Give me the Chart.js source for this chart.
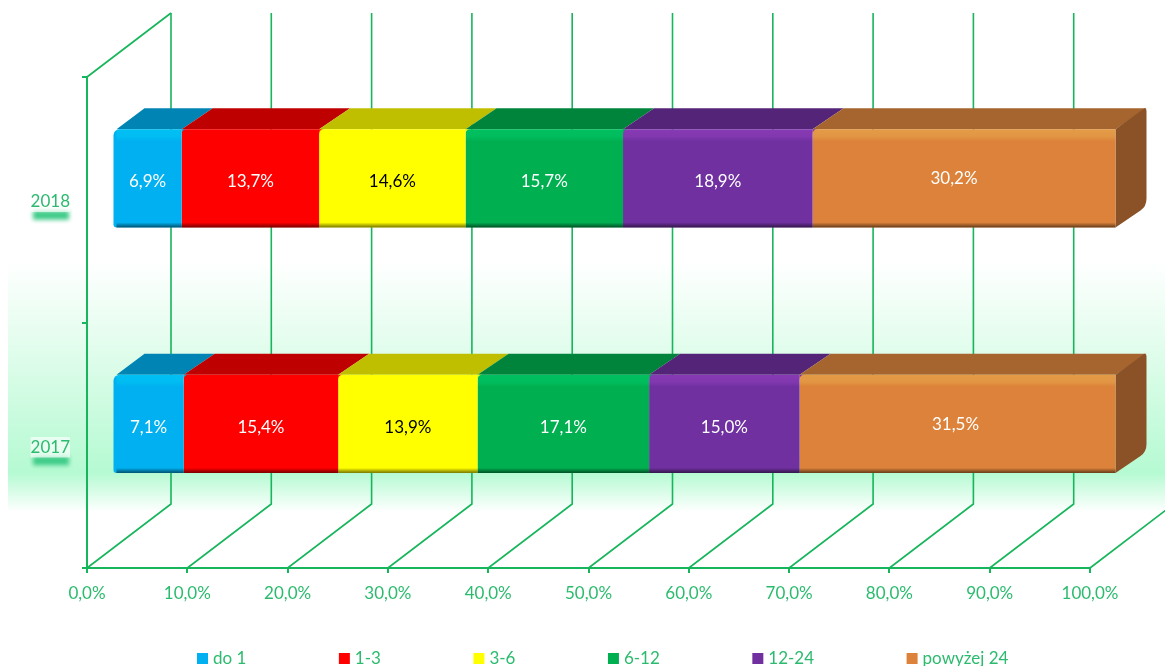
<!DOCTYPE html>
<html lang="pl">
<head>
<meta charset="utf-8">
<title>Struktura</title>
<style>
    html, body { margin: 0; padding: 0; background: #fff; }
    canvas { display: block; }
</style>
<script src="https://cdn.jsdelivr.net/npm/chart.js@4"></script>
</head>
<body>
<canvas id="chart" width="1165" height="666"></canvas>
<script>
const categories = ['2018', '2017'];
const seriesNames = ['do 1', '1-3', '3-6', '6-12', '12-24', 'powyżej 24'];
const do1 = [6.9, 7.1];
const from1to3 = [13.7, 15.4];
const from3to6 = [14.6, 13.9];
const from6to12 = [15.7, 17.1];
const from12to24 = [18.9, 15.0];
const over24 = [30.2, 31.5];
const seriesValues = [do1, from1to3, from3to6, from6to12, from12to24, over24];

const frontColors = ['#00B0F0', '#FF0000', '#FFFF00', '#00B050', '#7030A0', '#DC823A'];
const topColors = ['#0084B4', '#BF0000', '#BFBF00', '#00843C', '#542478', '#A6652E'];
const labelColors = ['#fff', '#fff', '#000', '#fff', '#fff', '#fff'];
const sideColor = '#8A5226';
const lineColor = '#17B55C';
const textColor = '#2CBB6E';
const fontName = 'Lato, Carlito, sans-serif';

// box sits in front of the back wall, so it is shifted from the axis
const barShiftX = 25.5;
const barShiftY = -21.4;
const depthX = 31;
const depthY = -21;
const wallX = 84;
const wallY = -64;

function percentText(value) {
    return value.toFixed(1).replace('.', ',') + '%';
}

const wallPlugin = {
    id: 'wall',
    beforeDraw(chart) {
        const ctx = chart.ctx;
        const grad = ctx.createLinearGradient(0, 260, 0, 512);
        grad.addColorStop(0, '#ffffff');
        grad.addColorStop(0.32, '#E4FDEE');
        grad.addColorStop(0.845, '#B5FAD2');
        grad.addColorStop(1, '#ffffff');
        ctx.fillStyle = grad;
        ctx.fillRect(8, 260, chart.width - 8, 252);

        // soft green shadow under the year labels
        const y = chart.scales.y;
        ctx.save();
        ctx.filter = 'blur(2px)';
        ctx.fillStyle = '#3FCB88';
        categories.forEach((c, i) => {
            ctx.fillRect(33, y.getPixelForTick(i) + 11, 36, 9);
        });
        ctx.restore();
    },
    beforeDatasetsDraw(chart) {
        const ctx = chart.ctx;
        const { x } = chart.scales;
        const { top, bottom } = chart.chartArea;
        ctx.save();
        ctx.strokeStyle = lineColor;
        ctx.lineWidth = 1.6;
        x.ticks.forEach((t) => {
            const px = x.getPixelForValue(t.value);
            ctx.beginPath();
            ctx.moveTo(px, bottom);
            ctx.lineTo(px + wallX, bottom + wallY);
            ctx.lineTo(px + wallX, top + wallY);
            ctx.stroke();
        });
        const left = x.getPixelForValue(0);
        ctx.beginPath();
        ctx.moveTo(left, top);
        ctx.lineTo(left + wallX, top + wallY);
        ctx.stroke();
        ctx.restore();

        // top and side faces of the box, then leave ctx moved for the bars
        ctx.save();
        ctx.translate(barShiftX, barShiftY);
        seriesValues.forEach((values, s) => {
            chart.getDatasetMeta(s).data.forEach((bar) => {
                const barTop = bar.y - bar.height / 2;
                const barBottom = bar.y + bar.height / 2;
                ctx.fillStyle = topColors[s];
                ctx.beginPath();
                ctx.moveTo(bar.base + (s === 0 ? 3 : 0), barTop);
                ctx.lineTo(bar.base + depthX, barTop + depthY);
                ctx.lineTo(bar.x + depthX, barTop + depthY);
                ctx.lineTo(bar.x, barTop);
                ctx.closePath();
                ctx.fill();
                if (s === seriesValues.length - 1) {
                    ctx.fillStyle = sideColor;
                    ctx.beginPath();
                    ctx.moveTo(bar.x, barTop);
                    ctx.lineTo(bar.x + depthX - 2, barTop + depthY);
                    ctx.quadraticCurveTo(bar.x + depthX, barTop + depthY, bar.x + depthX, barTop + depthY + 3);
                    ctx.lineTo(bar.x + depthX, barBottom + depthY - 8);
                    ctx.quadraticCurveTo(bar.x + depthX, barBottom + depthY, bar.x + depthX - 6, barBottom + depthY + 4);
                    ctx.lineTo(bar.x, barBottom);
                    ctx.closePath();
                    ctx.fill();
                }
            });
        });
    },
    afterDatasetsDraw(chart) {
        const ctx = chart.ctx;
        seriesValues.forEach((values, s) => {
            chart.getDatasetMeta(s).data.forEach((bar, i) => {
                const barTop = bar.y - bar.height / 2;
                const barBottom = bar.y + bar.height / 2;
                const from = bar.base + (s === 0 ? 3 : 0);
                const width = bar.x - from;

                // overlay keeps pure red and yellow as they are
                const shine = ctx.createLinearGradient(0, barTop, 0, barTop + 12);
                shine.addColorStop(0, 'rgba(255,255,255,0.2)');
                shine.addColorStop(0.6, 'rgba(255,255,255,0.16)');
                shine.addColorStop(1, 'rgba(255,255,255,0)');
                ctx.globalCompositeOperation = 'overlay';
                ctx.fillStyle = shine;
                ctx.fillRect(from, barTop, width, 12);
                ctx.globalCompositeOperation = 'source-over';

                const shade = ctx.createLinearGradient(0, barBottom - 5, 0, barBottom);
                shade.addColorStop(0, 'rgba(0,0,0,0)');
                shade.addColorStop(1, 'rgba(0,0,0,0.55)');
                ctx.fillStyle = shade;
                ctx.fillRect(from, barBottom - 5, width, 5);

                // each piece has its left corners rounded over the previous one
                if (s > 0) {
                    const r = 5;
                    ctx.fillStyle = frontColors[s - 1];
                    ctx.beginPath();
                    ctx.moveTo(bar.base, barTop);
                    ctx.lineTo(bar.base + r, barTop);
                    ctx.quadraticCurveTo(bar.base, barTop, bar.base, barTop + r);
                    ctx.closePath();
                    ctx.fill();
                }
            });
        });

        ctx.font = '17px ' + fontName;
        ctx.textAlign = 'center';
        ctx.textBaseline = 'middle';
        seriesValues.forEach((values, s) => {
            chart.getDatasetMeta(s).data.forEach((bar, i) => {
                let lx = (bar.base + bar.x) / 2;
                let ly = bar.y + 3.5;
                if (s === seriesValues.length - 1) {
                    lx += i === 0 ? -10 : -2;
                    ly -= 3;
                }
                ctx.fillStyle = labelColors[s];
                ctx.fillText(percentText(values[i]), lx, ly);
            });
        });
        ctx.restore();
    },
    afterLayout(chart) {
        // legend row sits lower and further right than the default place
        const legend = chart.legend;
        const pad = legend.options.labels.padding;
        legend.left = 200.5 - pad;
        legend.right = chart.width;
        legend.top = 650 - pad;
        legend.bottom = chart.height;
    }
};

const datasets = seriesNames.map((name, s) => ({
    label: name,
    data: seriesValues[s],
    backgroundColor: frontColors[s],
    barPercentage: 0.4,
    categoryPercentage: 1,
    clip: false,
    borderSkipped: false,
    borderRadius: s === 0 ? { topLeft: 6, bottomLeft: 3, topRight: 0, bottomRight: 0 } : 0
}));

new Chart(document.getElementById('chart'), {
    type: 'bar',
    data: { labels: categories, datasets: datasets },
    plugins: [wallPlugin],
    options: {
        indexAxis: 'y',
        responsive: false,
        animation: false,
        layout: { padding: { top: 77, right: 75, left: 0, bottom: 0 } },
        scales: {
            x: {
                stacked: true,
                min: 0,
                max: 100,
                afterFit(scale) { scale.height = 68; },
                border: { color: lineColor, width: 2 },
                grid: { drawOnChartArea: false, color: lineColor, lineWidth: 2, tickLength: 5 },
                ticks: {
                    stepSize: 10,
                    autoSkip: false,
                    maxRotation: 0,
                    padding: 10,
                    color: textColor,
                    font: { family: fontName, size: 17 },
                    callback: (value) => percentText(value)
                }
            },
            y: {
                stacked: true,
                afterFit(scale) { scale.width = 87; },
                border: { color: lineColor, width: 2 },
                grid: { drawOnChartArea: false, color: lineColor, lineWidth: 2, tickLength: 5, offset: true },
                ticks: {
                    padding: 12,
                    labelOffset: 2,
                    color: textColor,
                    font: { family: fontName, size: 17 },
                    showLabelBackdrop: true,
                    backdropColor: 'rgba(255,255,255,0.65)',
                    backdropPadding: 0
                }
            }
        },
        plugins: {
            tooltip: { enabled: false },
            legend: {
                position: 'bottom',
                align: 'start',
                maxHeight: 30,
                labels: {
                    boxWidth: 4,
                    boxHeight: 4,
                    padding: 96,
                    color: textColor,
                    font: { family: fontName, size: 17 },
                    generateLabels(chart) {
                        return Chart.defaults.plugins.legend.labels.generateLabels(chart).map((item) => ({
                            ...item,
                            lineWidth: 7,
                            lineJoin: 'miter',
                            strokeStyle: item.fillStyle
                        }));
                    }
                }
            }
        }
    }
});
</script>
</body>
</html>
